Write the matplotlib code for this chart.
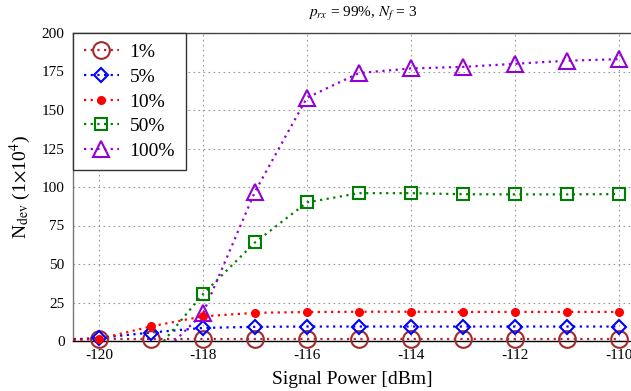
import matplotlib

matplotlib.use("Agg")
import matplotlib.pyplot as plt
from matplotlib.lines import Line2D
import numpy as np

plt.rcParams["font.family"] = ["Liberation Serif", "DejaVu Serif"]
plt.rcParams["mathtext.fontset"] = "stix"
plt.rcParams["axes.unicode_minus"] = False

# Signal power grid [dBm]
power = [-121, -120, -119, -118, -117, -116, -115, -114, -113, -112, -111, -110]

# N_dev (x 1e4) per percentage of devices; values below 0 fall under the axis
n_1 = [1.5, 1.5, 1.5, 1.5, 1.5, 1.5, 1.5, 1.5, 1.5, 1.5, 1.5, 1.5]
n_5 = [0, 2, 5.5, 8.5, 9.2, 9.4, 9.4, 9.4, 9.4, 9.4, 9.4, 9.4]
n_10 = [0, 1.3, 9.5, 16, 18.3, 18.8, 19, 19, 18.9, 18.9, 18.9, 18.9]
n_50 = [np.nan, np.nan, -10, 30.5, 64, 90, 96, 96, 95.3, 95.2, 95.2, 95.4]
n_100 = [np.nan, np.nan, -15, 18, 97, 158, 174, 177, 178, 180, 182, 183]

series = [
    ("1%", n_1, "#A52A2A", "o", 12, "none", False),
    ("5%", n_5, "#0000FF", "D", 7.5, "none", False),
    ("10%", n_10, "#FF0000", "o", 5, "#FF0000", False),
    ("50%", n_50, "#008000", "s", 8.5, "none", True),
    ("100%", n_100, "#9400D3", "^", 12, "none", True),
]
DOTS = (0, (1, 2))

fig = plt.figure(figsize=(6.31, 3.91), dpi=100)
ax = fig.add_axes([73 / 631, 50 / 391, 558 / 631, 308 / 391])

handles = []
for label, vals, color, marker, ms, mfc, clip in series:
    # dotted line, clipped to the axes
    ax.plot(power, vals, linestyle=DOTS, linewidth=1.6, color=color, zorder=3)
    # markers from -120 dBm on; the low curves spill over the x axis
    ax.plot(power[1:], vals[1:], linestyle="none", marker=marker,
            markersize=ms, markerfacecolor=mfc, markeredgecolor=color,
            markeredgewidth=1.5, clip_on=clip, zorder=4)
    handles.append(Line2D([], [], linestyle=DOTS, linewidth=1.6, color=color,
                          marker=marker, markersize=ms, markerfacecolor=mfc,
                          markeredgecolor=color, markeredgewidth=1.5,
                          label=label))

ax.set_xlim(-120.5, -109.77)
ax.set_ylim(0, 200)
ax.set_xticks([-120, -118, -116, -114, -112, -110])
ax.set_yticks(np.arange(0, 201, 25))
ax.tick_params(length=0, labelsize=11, pad=6)
ax.grid(True, linestyle=(0, (1.5, 3)), color="#999999", linewidth=0.8)

ax.spines["right"].set_visible(False)
ax.spines["left"].set_color("#777777")
ax.spines["top"].set_color("#444444")
ax.spines["bottom"].set_color("#000000")
for s in ax.spines.values():
    s.set_linewidth(1.0)

ax.set_xlabel("Signal Power [dBm]", fontsize=14, labelpad=6)
ax.set_ylabel(r"N$_{\mathrm{dev}}$ (1$\times$10$^{4}$)", fontsize=14, labelpad=6)
fig.text(0.575, 0.965, r"$p_{rx}$ = 99%, $N_f$ = 3", ha="center", va="center",
         fontsize=11)

leg = ax.legend(handles=handles, loc="upper left", fontsize=14, numpoints=1,
                handlelength=1.8, labelspacing=0.36, borderaxespad=0,
                borderpad=0.55, handletextpad=0.55, fancybox=False,
                framealpha=1)
leg.get_frame().set_edgecolor("#333333")
leg.get_frame().set_linewidth(1.0)
leg.set_zorder(5)

fig.savefig("out.png", dpi=100)
